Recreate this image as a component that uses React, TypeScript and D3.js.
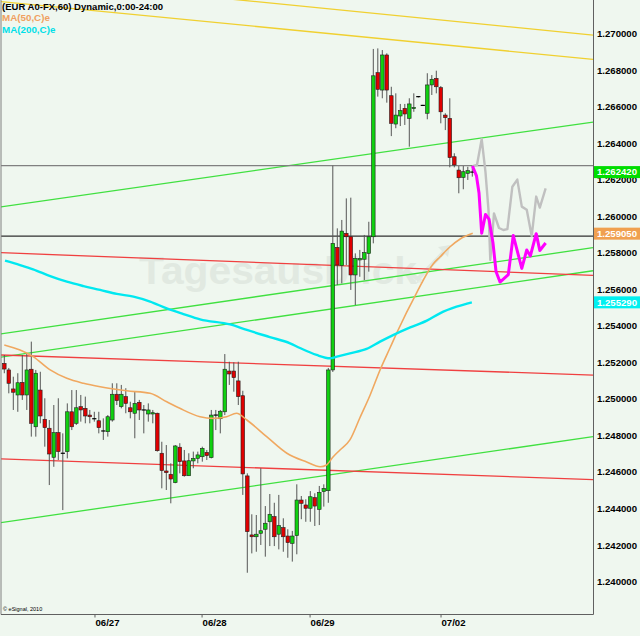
import React from "react";
import * as d3 from "d3";

// Hourly EUR/USD candles (open, high, low, close)
const opens = [1.25195,1.25159,1.25055,1.25022,1.25091,1.25022,1.25163,1.24848,1.25049,1.24889,1.24840,1.24681,1.24816,1.24703,1.24712,1.24930,1.24867,1.24958,1.24949,1.24912,1.24892,1.24881,1.24825,1.24821,1.24885,1.25026,1.24958,1.25013,1.24952,1.24922,1.24982,1.24940,1.24918,1.24918,1.24922,1.24703,1.24606,1.24588,1.24542,1.24736,1.24661,1.24580,1.24661,1.24675,1.24684,1.24708,1.24679,1.24910,1.24892,1.24930,1.25153,1.25153,1.25099,1.25018,1.24579,1.24256,1.24246,1.24265,1.24287,1.24328,1.24356,1.24260,1.24296,1.24250,1.24210,1.24252,1.24447,1.24420,1.24402,1.24460,1.24396,1.24493,1.24498,1.25159,1.25830,1.25730,1.25907,1.25888,1.25679,1.25761,1.25765,1.25797,1.25888,1.26786,1.26691,1.26883,1.26660,1.26505,1.26549,1.26591,1.26536,1.26589,1.26655,1.26607,1.26564,1.26719,1.26755,1.26704,1.26554,1.26536,1.26326,1.26253,1.26213,1.26235,1.26242];
const highs = [1.25241,1.25170,1.25122,1.25141,1.25241,1.25250,1.25314,1.25159,1.25149,1.25004,1.24885,1.24967,1.25004,1.24812,1.24976,1.25049,1.25049,1.25022,1.25013,1.24940,1.24930,1.24930,1.24894,1.24912,1.25086,1.25086,1.25077,1.25059,1.24985,1.25040,1.24995,1.24967,1.24976,1.24940,1.24925,1.24766,1.24748,1.24648,1.24748,1.24758,1.24721,1.24703,1.24712,1.24712,1.24739,1.24721,1.24940,1.24940,1.24940,1.25246,1.25204,1.25201,1.25204,1.25045,1.24593,1.24369,1.24365,1.24621,1.24414,1.24480,1.24432,1.24475,1.24347,1.24287,1.24278,1.24533,1.24469,1.24451,1.24496,1.24484,1.24524,1.24533,1.25170,1.26277,1.25934,1.25980,1.26098,1.26102,1.25797,1.25816,1.25898,1.25970,1.26916,1.26919,1.26910,1.26892,1.26709,1.26673,1.26615,1.26615,1.26646,1.26673,1.26658,1.26610,1.26783,1.26773,1.26797,1.26713,1.26564,1.26646,1.26345,1.26275,1.26275,1.26271,1.26275];
const lows = [1.25141,1.25031,1.24940,1.24930,1.24995,1.24940,1.24794,1.24794,1.24867,1.24739,1.24529,1.24629,1.24666,1.24392,1.24675,1.24830,1.24858,1.24876,1.24867,1.24867,1.24876,1.24812,1.24776,1.24794,1.24876,1.24967,1.24949,1.24922,1.24894,1.24785,1.24885,1.24812,1.24876,1.24867,1.24712,1.24511,1.24502,1.24429,1.24539,1.24593,1.24575,1.24579,1.24621,1.24648,1.24657,1.24666,1.24675,1.24830,1.24812,1.24912,1.25077,1.25040,1.24967,1.24475,1.24049,1.24155,1.24164,1.24201,1.24137,1.24195,1.24195,1.24177,1.24164,1.24131,1.24110,1.24150,1.24342,1.24328,1.24328,1.24305,1.24310,1.24411,1.24432,1.25148,1.25624,1.25633,1.25733,1.25597,1.25514,1.25669,1.25651,1.25697,1.25852,1.26655,1.26646,1.26622,1.26439,1.26482,1.26494,1.26500,1.26381,1.26572,1.26650,1.26604,1.26531,1.26664,1.26673,1.26509,1.26472,1.26268,1.26268,1.26126,1.26148,1.26199,1.26217];
const closes = [1.25164,1.25086,1.25037,1.25089,1.25022,1.25159,1.24867,1.25141,1.24907,1.24843,1.24699,1.24816,1.24712,1.24700,1.24930,1.24848,1.24952,1.24940,1.24907,1.24903,1.24891,1.24843,1.24823,1.24903,1.25026,1.24991,1.25026,1.24976,1.24930,1.24976,1.24940,1.24934,1.24940,1.24925,1.24717,1.24608,1.24597,1.24562,1.24743,1.24657,1.24580,1.24662,1.24675,1.24694,1.24730,1.24690,1.24912,1.24912,1.24933,1.25163,1.25137,1.25117,1.25013,1.24590,1.24274,1.24246,1.24260,1.24279,1.24320,1.24369,1.24246,1.24307,1.24246,1.24214,1.24250,1.24447,1.24429,1.24402,1.24465,1.24414,1.24489,1.24511,1.25159,1.25852,1.25733,1.25919,1.25888,1.25679,1.25770,1.25770,1.25801,1.25888,1.26769,1.26695,1.26883,1.26691,1.26509,1.26554,1.26578,1.26560,1.26615,1.26596,1.26655,1.26607,1.26719,1.26750,1.26709,1.26572,1.26540,1.26321,1.26281,1.26211,1.26244,1.26250,1.26242];

// Moving averages: [bar index, value]
const ma50: [number, number][] = [[0,1.25296],[3.5,1.25268],[6.4,1.25232],[10.2,1.25159],[13.9,1.25113],[17.6,1.25086],[21.3,1.25067],[27.2,1.25045],[32.4,1.25031],[36.1,1.24985],[39,1.24949],[43.5,1.24903],[46.4,1.24894],[49.4,1.24903],[51.6,1.24922],[53.9,1.24885],[58.3,1.24794],[62.8,1.24703],[67.2,1.24655],[70.2,1.24629],[71.6,1.24639],[73.1,1.24684],[74.6,1.24721],[76.8,1.24776],[79,1.24896],[81.3,1.25022],[83.5,1.25159],[85.7,1.25279],[87.2,1.25361],[91.6,1.25580],[95.3,1.25739],[96.8,1.25777],[99,1.25832],[101.3,1.25876],[104.1,1.25907]];
const ma200: [number, number][] = [[0.16,1.25757],[3.5,1.25733],[6.4,1.25710],[10.2,1.25673],[13.9,1.25642],[17.6,1.25618],[21.3,1.25597],[25,1.25575],[28.7,1.25560],[32.4,1.25533],[36.1,1.25496],[39.8,1.25465],[43.5,1.25436],[50.2,1.25408],[53.9,1.25378],[59,1.25339],[63.5,1.25305],[65.7,1.25279],[69.4,1.25241],[72.4,1.25223],[73.9,1.25232],[76.8,1.25250],[80.5,1.25274],[83.5,1.25314],[86.4,1.25350],[90.2,1.25392],[93.9,1.25429],[96.8,1.25469],[100.5,1.25505],[103.9,1.25529]];

// Projected paths
const projMagenta: [number, number][] = [[104.04,1.26275],[104.93,1.26221],[105.49,1.26128],[106.09,1.25907],[106.93,1.26010],[107.71,1.25985],[108.6,1.25854],[109.27,1.25698],[110.16,1.25640],[112,1.25681],[113.1,1.25895],[115,1.25715],[116.1,1.25816],[116.9,1.25783],[118.2,1.25905],[119,1.25813],[120.3,1.25854]];
const projGrey: [number, number][] = [[104.04,1.26275],[105.04,1.26281],[106.09,1.26423],[106.93,1.26242],[107.6,1.26034],[108,1.25761],[108.82,1.26016],[109.93,1.25936],[110.9,1.25925],[111.8,1.25930],[112.9,1.26162],[114,1.26201],[115,1.26053],[116.1,1.26036],[117.2,1.25892],[118.2,1.26108],[119,1.26048],[120.3,1.26153]];

// Trend lines: [[index, price], [index, price]]
const yellowLines: [number, number][][] = [[[-0.96,1.27314],[130.82,1.26992]],[[-0.96,1.27176],[130.82,1.26859]]];
const greenLines: [number, number][][] = [[[-0.96,1.26051],[130.82,1.26516]],[[-0.96,1.25356],[130.82,1.25828]],[[-0.96,1.25228],[130.82,1.25702]],[[-0.96,1.24323],[130.82,1.24794]]];
const redLines: [number, number][][] = [[[-0.96,1.25801],[130.82,1.25677]],[[-0.96,1.25241],[130.82,1.25131]],[[-0.96,1.24672],[130.82,1.24559]]];
const greyLevel = 1.26277;
const blackLevel = 1.25891;

const priceTags = [1.26242, 1.25905, 1.25529];
const priceTagLabels = ["1.262420", "1.259050", "1.255290"];
const yTicks = [1.24, 1.242, 1.244, 1.246, 1.248, 1.25, 1.252, 1.254, 1.256, 1.258, 1.26, 1.262, 1.264, 1.266, 1.268, 1.27];
const dateTicks = [20.15, 43.95, 67.95, 97.05];
const dateLabels = ["06/27", "06/28", "06/29", "07/02"];

const FONT = "'Liberation Sans', Arial, sans-serif";

export default function App() {
  const W = 640, H = 636;
  const right = 593.5, bottom = 614.5;
  const x = d3.scaleLinear().domain([0, 104]).range([4.3, 472.3]);
  const y = d3.scaleLinear().domain([1.24, 1.27]).range([581.7, 33.6]);
  const lin = d3.line<[number, number]>().x(d => x(d[0])).y(d => y(d[1]));
  const smooth = d3.line<[number, number]>().x(d => x(d[0])).y(d => y(d[1])).curve(d3.curveMonotoneX);
  const tagColors = ["#00dd00", "#f0a050", "#00f0f0"];
  const bw = 3.6;

  return (
    <svg width={W} height={H} style={{ position: "absolute", left: 0, top: 0, background: "#eff7ef" }} fontFamily={FONT}>
      <defs>
        <clipPath id="plot"><rect x={1} y={0} width={right - 1} height={bottom} /></clipPath>
      </defs>
      <rect x={0} y={0} width={W} height={H} fill="#eff7ef" />
      {/* watermark */}
      <g fill="#e1e9e1">
        <text x={139} y={284} fontSize={39} fontWeight="bold" textLength={278} lengthAdjust="spacingAndGlyphs">Tagesausblick</text>
        <text x={414} y={283} fontSize={8} fontWeight="bold">de</text>
        <path d="M405,270 L418,279 L446,250" fill="none" stroke="#e1e9e1" strokeWidth={4} />
        <path d="M438,247 L450,245 L448,257 Z" />
      </g>
      <g clipPath="url(#plot)">
        {yellowLines.map((l, i) => <path key={"y" + i} d={lin(l) || ""} stroke="#f0d030" strokeWidth={1.3} fill="none" />)}
        {greenLines.map((l, i) => <path key={"g" + i} d={lin(l) || ""} stroke="#40e040" strokeWidth={1.3} fill="none" />)}
        {redLines.map((l, i) => <path key={"r" + i} d={lin(l) || ""} stroke="#f04040" strokeWidth={1.3} fill="none" />)}
        <line x1={0} x2={right} y1={y(greyLevel)} y2={y(greyLevel)} stroke="#808080" strokeWidth={1.2} />
        <line x1={0} x2={right} y1={y(blackLevel)} y2={y(blackLevel)} stroke="#303030" strokeWidth={1.2} />
        {/* candles */}
        {opens.map((o, i) => {
          const c = closes[i];
          const cx = x(i);
          const top = y(Math.max(o, c));
          const bot = y(Math.min(o, c));
          const h = bot - top;
          const up = c >= o;
          const doji = h < 1.2;
          return (
            <g key={i}>
              <line x1={cx} x2={cx} y1={y(highs[i])} y2={y(lows[i])} stroke="#555" strokeWidth={1} />
              {doji ? (
                <line x1={cx - bw / 2 - 0.3} x2={cx + bw / 2 + 0.3} y1={top} y2={top} stroke="#000" strokeWidth={1.2} />
              ) : (
                <rect x={cx - bw / 2} y={top} width={bw} height={h} fill={up ? "#10d010" : "#e00000"} stroke="#202020" strokeWidth={0.6} />
              )}
            </g>
          );
        })}
        <path d={smooth(ma50) || ""} stroke="#f0a860" strokeWidth={1.6} fill="none" />
        <path d={smooth(ma200) || ""} stroke="#00e8f0" strokeWidth={2.4} fill="none" />
        <path d={lin(projGrey) || ""} stroke="#c0c0c0" strokeWidth={2.4} fill="none" strokeLinejoin="round" />
        <path d={lin(projMagenta) || ""} stroke="#ff00ff" strokeWidth={3} fill="none" strokeLinejoin="round" />
      </g>
      {/* frame */}
      <line x1={1} x2={1} y1={0} y2={bottom} stroke="#808080" strokeWidth={1} />
      <line x1={right} x2={right} y1={0} y2={bottom} stroke="#606060" strokeWidth={1} />
      <line x1={1} x2={right} y1={bottom} y2={bottom} stroke="#606060" strokeWidth={1} />
      {/* y axis labels */}
      {yTicks.map((t, i) => (
        <text key={i} x={597} y={y(t)} dy="0.35em" fontSize={9.6} fontWeight="bold" fill="#000">{t.toFixed(6)}</text>
      ))}
      {priceTags.map((p, i) => (
        <g key={"t" + i}>
          <rect x={594} y={y(p) - 6} width={46} height={12} fill={tagColors[i]} />
          <text x={597} y={y(p)} dy="0.35em" fontSize={9.6} fontWeight="bold" fill="#fff">{priceTagLabels[i]}</text>
        </g>
      ))}
      {/* x axis */}
      {dateTicks.map((t, i) => (
        <g key={"d" + i}>
          <line x1={x(t)} x2={x(t)} y1={bottom} y2={bottom + 3} stroke="#606060" />
          <text x={x(t) + 0.5} y={626} fontSize={9.6} fontWeight="bold" fill="#000">{dateLabels[i]}</text>
        </g>
      ))}
      <text x={3} y={611} fontSize={5.5} fill="#000">© eSignal, 2010</text>
      {/* header */}
      <text x={2} y={9.5} fontSize={9.8} fontWeight="bold" fill="#000" textLength={161} lengthAdjust="spacingAndGlyphs">(EUR A0-FX,60) Dynamic,0:00-24:00</text>
      <text x={2} y={21} fontSize={9.8} fill="#f0a060" fontWeight="bold">MA(50,C)e</text>
      <text x={2} y={33} fontSize={9.8} fill="#00e0e8" fontWeight="bold">MA(200,C)e</text>
    </svg>
  );
}
